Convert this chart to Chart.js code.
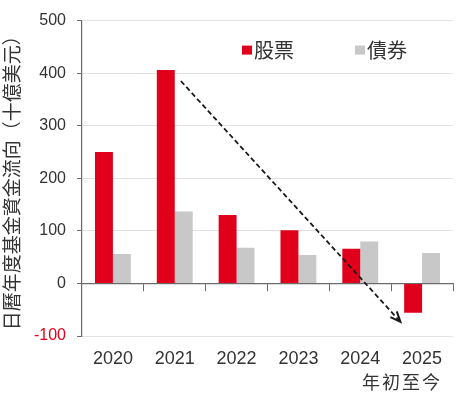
<!DOCTYPE html>
<html>
<head>
<meta charset="utf-8">
<script src="https://cdn.jsdelivr.net/npm/chart.js@4.4.1/dist/chart.umd.min.js"></script>
<style>
  html, body { margin: 0; padding: 0; background: #fff; }
  #wrap { width: 466px; height: 397px; }
</style>
</head>
<body>
<div id="wrap"><canvas id="flowChart" width="466" height="397"></canvas></div>
<script>
// Data
const years = ['2020', '2021', '2022', '2023', '2024', '2025'];
const equityFlows = [250, 406, 130, 101, 66, -56];
const bondFlows = [56, 137, 68, 54, 80, 58];
const seriesNames = ['股票', '債券'];
const yMin = -100;
const yMax = 500;
const yStep = 100;
const yTitle = '日曆年度基金資金流向（十億美元）';
const lastYearNote = '年初至今';

const RED = '#e0001b';
const GREY = '#c8c8c8';
const AXIS = '#6b6b6b';
const TEXT = '#333333';
const LATIN = "Arial, 'Liberation Sans', sans-serif";
const CJK = "'Noto Sans CJK TC', 'Noto Sans CJK SC', sans-serif";

// legend drawn inside the plot, upper right
const innerLegend = {
    id: 'innerLegend',
    afterDraw(chart) {
        const { ctx, chartArea } = chart;
        const slots = [chartArea.left + 160, chartArea.left + 273];
        ctx.save();
        ctx.font = '20px ' + CJK;
        ctx.textBaseline = 'middle';
        ctx.textAlign = 'left';
        chart.data.datasets.forEach((ds, i) => {
            const x = slots[i];
            const y = chartArea.top + 30;
            ctx.fillStyle = ds.backgroundColor;
            ctx.fillRect(x, y - 5, 10, 9);
            ctx.fillStyle = TEXT;
            ctx.fillText(ds.label, x + 12, y);
        });
        ctx.restore();
    }
};

// dashed trend arrow, ends given in data units (category index, value)
const trendArrow = {
    id: 'trendArrow',
    afterDatasetsDraw(chart) {
        const xs = chart.scales.x;
        const ys = chart.scales.y;
        const x1 = xs.getPixelForValue(1.1), y1 = ys.getPixelForValue(385);
        const x2 = xs.getPixelForValue(4.65), y2 = ys.getPixelForValue(-73);
        const ctx = chart.ctx;
        ctx.save();
        ctx.strokeStyle = '#1a1a1a';
        ctx.lineWidth = 1.8;
        ctx.setLineDash([5, 3]);
        ctx.beginPath();
        ctx.moveTo(x1, y1);
        ctx.lineTo(x2, y2);
        ctx.stroke();
        const ang = Math.atan2(y2 - y1, x2 - x1);
        ctx.setLineDash([]);
        ctx.lineWidth = 2;
        ctx.beginPath();
        ctx.moveTo(x2 - 11 * Math.cos(ang - 0.4), y2 - 11 * Math.sin(ang - 0.4));
        ctx.lineTo(x2, y2);
        ctx.lineTo(x2 - 11 * Math.cos(ang + 0.4), y2 - 11 * Math.sin(ang + 0.4));
        ctx.stroke();
        ctx.restore();
    }
};

// second line under the last category label
const yearNote = {
    id: 'yearNote',
    afterDraw(chart) {
        const xs = chart.scales.x;
        const ctx = chart.ctx;
        ctx.save();
        ctx.font = '18px ' + CJK;
        ctx.letterSpacing = '2px';
        ctx.fillStyle = TEXT;
        ctx.textAlign = 'right';
        ctx.textBaseline = 'middle';
        ctx.fillText(lastYearNote, xs.getPixelForValue(years.length - 1) + 20, chart.chartArea.bottom + 46);
        ctx.restore();
    }
};

new Chart(document.getElementById('flowChart'), {
    type: 'bar',
    data: {
        labels: years,
        datasets: [
            { label: seriesNames[0], data: equityFlows, backgroundColor: RED },
            { label: seriesNames[1], data: bondFlows, backgroundColor: GREY }
        ]
    },
    options: {
        responsive: false,
        animation: false,
        devicePixelRatio: 1,
        layout: { padding: { top: 17, right: 13, bottom: 0, left: 0 } },
        datasets: { bar: { categoryPercentage: 0.58, barPercentage: 1.0 } },
        plugins: {
            legend: { display: false },
            tooltip: { enabled: false }
        },
        scales: {
            x: {
                position: 'bottom',
                grid: { display: false, drawTicks: false },
                border: { display: false },
                ticks: { color: TEXT, font: { family: LATIN, size: 18 }, padding: 12, maxRotation: 0 },
                afterFit: (s) => { s.height = 61; }
            },
            zero: {
                type: 'category',
                axis: 'x',
                position: { y: 0 },
                offset: true,
                grid: { display: true, offset: true, drawOnChartArea: false, drawTicks: true, tickLength: 7, tickColor: AXIS },
                border: { display: true, color: AXIS, width: 1.2 },
                ticks: { display: false }
            },
            y: {
                min: yMin,
                max: yMax,
                ticks: {
                    stepSize: yStep,
                    padding: 11,
                    font: { family: LATIN, size: 16 },
                    color: (c) => c.tick && c.tick.value < 0 ? RED : TEXT
                },
                grid: { color: '#e2e2e2', tickLength: 5, tickColor: AXIS },
                border: { color: AXIS, width: 1.2 },
                title: {
                    display: true,
                    text: yTitle,
                    color: TEXT,
                    font: { family: CJK, size: 19 },
                    padding: 0
                },
                afterFit: (s) => { s.width = 82; }
            }
        }
    },
    plugins: [innerLegend, trendArrow, yearNote]
});
</script>
</body>
</html>
